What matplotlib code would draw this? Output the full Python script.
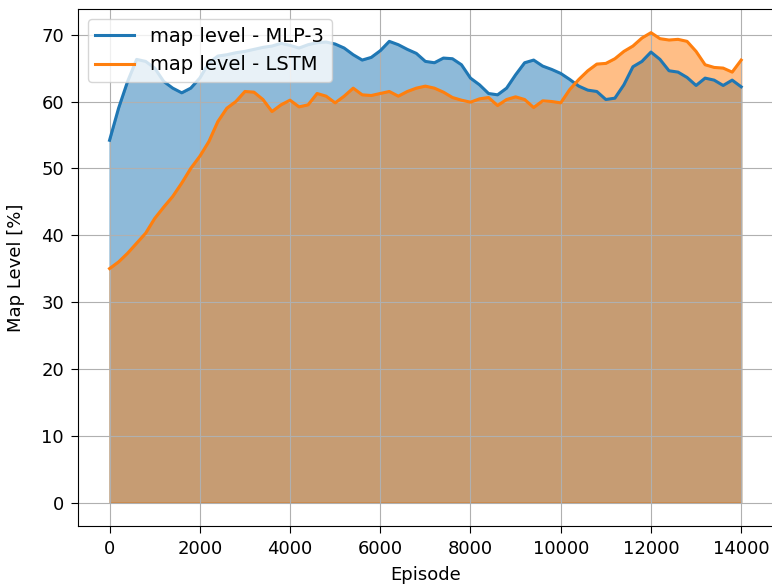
import numpy as np
import matplotlib.pyplot as plt

episodes = np.arange(0, 14001, 200)

mlp3 = [54.2, 59.0, 63.0, 66.3, 66.0, 65.0, 63.0, 62.0, 61.3, 62.0,
        63.5, 65.8, 66.8, 67.0, 67.3, 67.5, 67.8, 68.1, 68.3, 68.7,
        68.4, 68.0, 68.5, 68.8, 68.9, 68.6, 68.0, 67.0, 66.2, 66.6,
        67.6, 69.0, 68.5, 67.8, 67.2, 66.0, 65.8, 66.5, 66.4, 65.5,
        63.5, 62.5, 61.2, 61.0, 62.0, 64.0, 65.8, 66.2, 65.3, 64.8,
        64.2, 63.3, 62.3, 61.7, 61.5, 60.3, 60.5, 62.5, 65.2, 66.0,
        67.4, 66.3, 64.6, 64.4, 63.6, 62.4, 63.5, 63.2, 62.4, 63.2,
        62.2]

lstm = [35.0, 36.0, 37.3, 38.8, 40.3, 42.5, 44.2, 45.8, 47.8, 50.0,
        51.8, 54.0, 57.0, 59.0, 60.0, 61.5, 61.4, 60.3, 58.5, 59.5,
        60.2, 59.2, 59.5, 61.2, 60.8, 59.8, 60.8, 62.0, 61.0, 60.9,
        61.2, 61.5, 60.8, 61.5, 62.0, 62.3, 62.0, 61.4, 60.6, 60.2,
        59.9, 60.4, 60.6, 59.4, 60.3, 60.7, 60.3, 59.1, 60.1, 60.0,
        59.8, 61.8, 63.3, 64.6, 65.6, 65.7, 66.4, 67.5, 68.3, 69.5,
        70.3, 69.4, 69.2, 69.3, 69.0, 67.5, 65.5, 65.1, 65.0, 64.4,
        66.2]

plt.rcParams['font.size'] = 13

fig = plt.figure(figsize=(7.72, 5.88), dpi=100)
ax = fig.add_axes([0.101, 0.1054, 0.90, 0.879])

ax.plot(episodes, mlp3, color='C0', lw=2.2, label='map level - MLP-3')
ax.fill_between(episodes, mlp3, color='C0', alpha=0.5)
ax.plot(episodes, lstm, color='C1', lw=2.2, label='map level - LSTM')
ax.fill_between(episodes, lstm, color='C1', alpha=0.5)

ax.set_xlabel('Episode', labelpad=6)
ax.set_ylabel('Map Level [%]', labelpad=12)
ax.set_xticks(np.arange(0, 14001, 2000))
ax.tick_params(length=5, pad=5)
ax.grid(True)
ax.legend(loc='upper left', fontsize=14)

fig.savefig('out.png', dpi=100)
